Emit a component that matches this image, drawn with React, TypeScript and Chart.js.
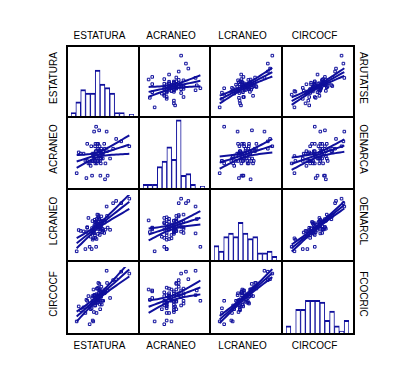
import React, { useEffect, useRef } from 'react';
import { Chart, registerables } from 'chart.js';

Chart.register(...registerables);

const VARIABLES = ['ESTATURA', 'ACRANEO', 'LCRANEO', 'CIRCOCF'];
const RIGHT_LABELS = ['ARUTATSE', 'OENARCA', 'OENARCL', 'FCOCRIC'];

const estatura = [174.2, 161, 171.2, 168.2, 167.6, 168.8, 174.8, 172.4, 172.9, 168.5, 170.0, 166.4, 169.1, 175.3, 171.6, 170.7, 169.4, 168.3, 169.8, 171.8, 170.4, 169.6, 165.8, 182, 165.2, 173.6, 167.9, 170.6, 173.1, 164.8, 172.2, 167.2, 170.9, 172.0, 168.6, 171.5, 164.3, 170.3, 171.9, 178, 170.8, 165.2, 169.0, 170.2, 174.0, 162, 176.5, 167.4, 169.7, 171.3, 169.9, 170.5, 186, 172.6, 168.9, 166.9, 171.1, 173.0, 163.4, 171.4, 175.0, 169.3, 160, 171.7, 170.6, 167.8, 168.0, 173.8, 172.1, 168.7, 169.2, 179.5];
const acraneo = [14.5, 14.95, 15.0, 14.8, 14.0, 14.7, 15.8, 14.9, 14.7, 14.9, 14.7, 14.5, 15.2, 14.0, 15.0, 15.1, 15.0, 14.8, 14.7, 15.0, 14.6, 16.0, 14.5, 15.4, 14.6, 15.3, 14.6, 14.6, 15.0, 13.9, 15.1, 15.2, 14.8, 14.7, 15.8, 14.6, 14.6, 15.1, 14.5, 15.1, 14.9, 15.3, 14.6, 15.3, 13.85, 14.9, 14.7, 14.6, 15.0, 15.2, 14.5, 14.9, 15.2, 14.9, 14.6, 14.4, 15.85, 14.9, 14.9, 14.8, 15.0, 15.3, 14.1, 14.0, 15.3, 14.9, 14.6, 15.1, 14.7, 14.9, 14.5, 15.5];
const lcraneo = [18.97, 18.95, 19.43, 18.58, 19.04, 19.17, 20.0, 19.03, 18.99, 18.84, 19.45, 18.2, 19.3, 19.06, 18.9, 19.62, 19.15, 19.01, 18.55, 19.36, 19.23, 18.2, 19.49, 20.15, 19.05, 18.82, 18.52, 19.52, 18.92, 18.86, 19.56, 18.88, 19.19, 19.1, 18.8, 19.02, 18.1, 19.16, 19.25, 20.15, 19.12, 19.08, 18.71, 19.64, 19.38, 18.91, 18.96, 18.1, 19.34, 19.09, 19.29, 18.78, 20.35, 18.85, 19.41, 18.65, 19.44, 19.37, 18.89, 18.73, 19.58, 19.31, 18.0, 18.98, 19.0, 19.35, 18.83, 19.28, 19.32, 19.11, 18.6, 20.25];
const circocf = [56.7, 55.2, 57.6, 53.6, 56.1, 56.4, 59.0, 55.4, 56.6, 54.6, 57.1, 53.3, 56.2, 56.9, 54.9, 57.7, 55.7, 57.0, 54.5, 57.0, 55.6, 55.8, 56.3, 58.9, 55.2, 56.6, 53.7, 57.2, 55.8, 55.9, 57.3, 55.3, 55.9, 56.2, 56.4, 55.4, 54.5, 56.4, 55.8, 58.0, 56.6, 55.8, 55.3, 57.1, 57.0, 54.8, 56.1, 55.0, 56.5, 56.9, 55.6, 55.7, 58.7, 55.8, 56.4, 54.9, 56.9, 56.8, 55.1, 55.8, 57.7, 55.5, 53.6, 56.8, 56.4, 56.3, 55.6, 56.6, 56.3, 56.3, 55.3, 58.1];

const binLabels = ['1', '2', '3', '4', '5', '6', '7', '8', '9', '10', '11', '12', '13'];
const histEstatura = [2, 8, 15, 13, 13, 26, 18, 16, 13, 2, 2, 0, 1];
const histAcraneo = [2, 2, 2, 12, 15, 23, 16, 38, 7, 8, 2, 0, 1];
const histLcraneo = [8, 5, 13, 15, 13, 21, 15, 12, 13, 4, 4, 5, 2];
const histCircocf = [4, 0, 13, 13, 18, 18, 18, 17, 7, 12, 4, 1, 7];

const SERIES = [estatura, acraneo, lcraneo, circocf];
const HISTS = [histEstatura, histAcraneo, histLcraneo, histCircocf];
const HIST_MAX = 39;
const T95 = 1.994;

const BLUE = '#10109c';
const V = [66, 138, 209, 281, 353];
const H = [45, 116, 188, 260, 333];
const LINE = 2;
const FONT = '10px "Liberation Sans", Arial, sans-serif';

function range(vals: number[]) {
  const mn = Math.min(...vals);
  const mx = Math.max(...vals);
  const pad = (mx - mn) * 0.07;
  return { min: mn - pad, max: mx + pad, lo: mn, hi: mx };
}

function regression(xs: number[], ys: number[]) {
  const n = xs.length;
  const mx = xs.reduce((s, v) => s + v, 0) / n;
  const my = ys.reduce((s, v) => s + v, 0) / n;
  let sxx = 0;
  let sxy = 0;
  for (let i = 0; i < n; i++) {
    sxx += (xs[i] - mx) ** 2;
    sxy += (xs[i] - mx) * (ys[i] - my);
  }
  const b = sxy / sxx;
  const a = my - b * mx;
  let sse = 0;
  for (let i = 0; i < n; i++) sse += (ys[i] - a - b * xs[i]) ** 2;
  const s = Math.sqrt(sse / (n - 2));
  return { n, mx, sxx, a, b, s };
}

const baseOptions: any = {
  animation: false,
  responsive: false,
  maintainAspectRatio: false,
  devicePixelRatio: 1,
  events: [],
  plugins: { legend: { display: false }, tooltip: { enabled: false } },
};

function scatterConfig(row: number, col: number): any {
  const xs = SERIES[col];
  const ys = SERIES[row];
  const xr = range(xs);
  const yr = range(ys);
  const reg = regression(xs, ys);
  const fit: any[] = [];
  const up: any[] = [];
  const dn: any[] = [];
  const steps = 24;
  for (let k = 0; k <= steps; k++) {
    const x = xr.lo + ((xr.hi - xr.lo) * k) / steps;
    const yhat = reg.a + reg.b * x;
    const h = T95 * reg.s * Math.sqrt(1 / reg.n + (x - reg.mx) ** 2 / reg.sxx);
    fit.push({ x, y: yhat });
    up.push({ x, y: yhat + h });
    dn.push({ x, y: yhat - h });
  }
  const lineDs = (d: any[]) => ({
    data: d,
    showLine: true,
    borderColor: BLUE,
    borderWidth: 2,
    pointRadius: 0,
    fill: false,
    tension: 0,
  });
  return {
    type: 'scatter',
    data: {
      datasets: [
        {
          data: xs.map((x, i) => ({ x, y: ys[i] })),
          pointStyle: 'rect',
          pointRadius: 1.8,
          borderWidth: 1,
          borderColor: BLUE,
          backgroundColor: 'rgba(0,0,0,0)',
        },
        lineDs(fit),
        lineDs(up),
        lineDs(dn),
      ],
    },
    options: {
      ...baseOptions,
      layout: { padding: 0 },
      scales: {
        x: { type: 'linear', display: false, min: xr.min, max: xr.max },
        y: { type: 'linear', display: false, min: yr.min, max: yr.max },
      },
    },
  };
}

function histConfig(idx: number): any {
  return {
    type: 'bar',
    data: {
      labels: binLabels,
      datasets: [
        {
          data: HISTS[idx],
          backgroundColor: '#ffffff',
          borderColor: BLUE,
          borderWidth: { top: 2, left: 1, right: 1, bottom: 0 },
          barPercentage: 1,
          categoryPercentage: 1,
        },
      ],
    },
    options: {
      ...baseOptions,
      layout: { padding: { left: 3, right: 4, top: 0, bottom: 0 } },
      scales: {
        x: { display: false },
        y: { display: false, min: 0, max: HIST_MAX },
      },
    },
  };
}

function Cell({ row, col }: { row: number; col: number }) {
  const ref = useRef<HTMLCanvasElement>(null);
  const left = V[col] + LINE;
  const top = H[row] + LINE;
  const w = V[col + 1] - V[col] - LINE;
  const h = H[row + 1] - H[row] - LINE;
  useEffect(() => {
    const cfg = row === col ? histConfig(row) : scatterConfig(row, col);
    const chart = new Chart(ref.current as HTMLCanvasElement, cfg);
    return () => chart.destroy();
  }, [row, col]);
  return (
    <canvas
      ref={ref}
      width={w}
      height={h}
      style={{ position: 'absolute', left, top, width: w, height: h }}
    />
  );
}

function Label({ text, x, y, rot }: { text: string; x: number; y: number; rot: number }) {
  return (
    <div
      style={{
        position: 'absolute',
        left: x,
        top: y,
        transform: `translate(-50%, -50%) rotate(${rot}deg)`,
        font: FONT,
        lineHeight: '10px',
        color: '#000',
        whiteSpace: 'nowrap',
      }}
    >
      {text}
    </div>
  );
}

export default function App() {
  const cells: JSX.Element[] = [];
  for (let r = 0; r < 4; r++) for (let c = 0; c < 4; c++) cells.push(<Cell key={`${r}-${c}`} row={r} col={c} />);
  const lines: JSX.Element[] = [];
  V.forEach((x, i) =>
    lines.push(
      <div key={`v${i}`} style={{ position: 'absolute', left: x, top: H[0], width: LINE, height: H[4] - H[0] + LINE, background: '#000' }} />
    )
  );
  H.forEach((y, i) =>
    lines.push(
      <div key={`h${i}`} style={{ position: 'absolute', left: V[0], top: y, width: V[4] - V[0] + LINE, height: LINE, background: '#000' }} />
    )
  );
  const colCenter = (j: number) => (V[j] + V[j + 1]) / 2 + 1 - 3.5;
  const rowCenter = (i: number) => (H[i] + H[i + 1]) / 2 + 1 - 4;
  const labels: JSX.Element[] = [];
  VARIABLES.forEach((name, j) => {
    labels.push(<Label key={`t${j}`} text={name} x={colCenter(j)} y={36} rot={0} />);
    labels.push(<Label key={`b${j}`} text={name} x={colCenter(j)} y={346} rot={0} />);
    labels.push(<Label key={`l${j}`} text={name} x={54} y={rowCenter(j)} rot={-90} />);
    labels.push(<Label key={`r${j}`} text={RIGHT_LABELS[j]} x={363} y={rowCenter(j)} rot={90} />);
  });
  return (
    <div style={{ position: 'absolute', left: 0, top: 0, width: 411, height: 381, background: '#fff', overflow: 'hidden' }}>
      {cells}
      {lines}
      {labels}
    </div>
  );
}
